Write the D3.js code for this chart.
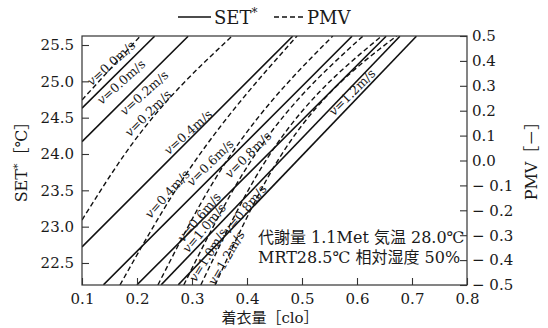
<!DOCTYPE html>
<html><head><meta charset="utf-8">
<script src="https://cdn.jsdelivr.net/npm/d3@7"></script>
<style>
body{margin:0;background:#fff;}
text{font-family:"DejaVu Serif","Liberation Serif","Noto Sans CJK JP",serif;fill:#1a1a1a;}
</style></head><body>
<svg id="c" width="548" height="328"></svg>
<script>
// ---- data ----
const cloTicks = [0.1, 0.2, 0.3, 0.4, 0.5, 0.6, 0.7, 0.8];
const setTicks = [22.5, 23.0, 23.5, 24.0, 24.5, 25.0, 25.5];
const pmvTicks = [0.5, 0.4, 0.3, 0.2, 0.1, 0.0, -0.1, -0.2, -0.3, -0.4, -0.5];
const velocities = ["0.0", "0.2", "0.4", "0.6", "0.8", "1.0", "1.2"];
// SET* [°C] vs clothing [clo], one series per air velocity
const set00 = [[0.100, 24.63], [0.232, 25.62]];
const set02 = [[0.100, 24.17], [0.293, 25.62]];
const set04 = [[0.100, 22.72], [0.483, 25.62]];
const set06 = [[0.139, 22.20], [0.591, 25.62]];
const set08 = [[0.200, 22.20], [0.653, 25.62]];
const set10 = [[0.244, 22.20], [0.678, 25.62]];
const set12 = [[0.275, 22.20], [0.708, 25.62]];
// PMV [-] vs clothing [clo]
const pmv00 = [[0.100, 0.243], [0.206, 0.50]];
const pmv02 = [[0.100, -0.239], [0.187, 0.054], [0.373, 0.50]];
const pmv04 = [[0.169, -0.50], [0.270, -0.12], [0.491, 0.50]];
const pmv06 = [[0.238, -0.50], [0.335, -0.10], [0.556, 0.50]];
const pmv08 = [[0.285, -0.50], [0.385, -0.08], [0.611, 0.50]];
const pmv10 = [[0.316, -0.50], [0.415, -0.07], [0.645, 0.50]];
const pmv12 = [[0.342, -0.50], [0.440, -0.06], [0.672, 0.50]];
const setSeries = [set00, set02, set04, set06, set08, set10, set12];
const pmvSeries = [pmv00, pmv02, pmv04, pmv06, pmv08, pmv10, pmv12];
// curve labels: velocity index, clo at centre, SET-axis value at centre, angle
const curveLabels = [
  [0, 0.153, 25.25, -42],
  [0, 0.171, 24.99, -42],
  [1, 0.213, 24.84, -42],
  [1, 0.220, 24.56, -45],
  [2, 0.293, 24.30, -42],
  [2, 0.255, 23.45, -48],
  [3, 0.333, 23.88, -45],
  [4, 0.402, 23.99, -45],
  [3, 0.313, 23.13, -50],
  [5, 0.322, 22.98, -50],
  [4, 0.396, 23.24, -50],
  [5, 0.329, 22.61, -58],
  [6, 0.362, 22.57, -60],
  [6, 0.591, 24.85, -45]
];
const legendItems = ["SET", "PMV"];
const noteLines = ["代謝量 1.1Met 気温 28.0℃", "MRT28.5℃ 相対湿度 50%"];

// ---- drawing ----
const svg = d3.select("#c");
const L = 82, R = 467, T = 36, B = 285;
const x = d3.scaleLinear().domain([0.1, 0.8]).range([L, R]);
const yS = d3.scaleLinear().domain([22.197, 25.624]).range([B, T]);
const yP = d3.scaleLinear().domain([-0.5, 0.5]).range([B, T]);

svg.append("clipPath").attr("id", "clip").append("rect")
  .attr("x", L).attr("y", T).attr("width", R - L).attr("height", B - T);

const g = svg.append("g").attr("clip-path", "url(#clip)");
const lineS = d3.line().x(d => x(d[0])).y(d => yS(d[1])).curve(d3.curveMonotoneX);
const lineP = d3.line().x(d => x(d[0])).y(d => yP(d[1])).curve(d3.curveMonotoneX);
g.selectAll(".s").data(setSeries).join("path").attr("d", lineS)
  .attr("fill", "none").attr("stroke", "#111").attr("stroke-width", 1.6);
g.selectAll(".p").data(pmvSeries).join("path").attr("d", lineP)
  .attr("fill", "none").attr("stroke", "#111").attr("stroke-width", 1.4)
  .attr("stroke-dasharray", "5,3");

// frame
svg.append("rect").attr("x", L).attr("y", T).attr("width", R - L).attr("height", B - T)
  .attr("fill", "none").attr("stroke", "#333").attr("stroke-width", 1.2);

// axes
const ax = d3.axisBottom(x).tickValues(cloTicks).tickSize(-7).tickPadding(8).tickFormat(d3.format(".1f"));
const ay = d3.axisLeft(yS).tickValues(setTicks).tickSize(-7).tickPadding(8).tickFormat(d3.format(".1f"));
const ayr = d3.axisRight(yP).tickValues(pmvTicks).tickSize(-7).tickPadding(5)
  .tickFormat(d => d < 0 ? "\u2212 " + Math.abs(d).toFixed(1) : d.toFixed(1));
function styleAxis(sel) {
  sel.select(".domain").remove();
  sel.selectAll("line").attr("stroke", "#333").attr("stroke-width", 1.1);
  sel.selectAll("text").attr("font-size", 15).attr("fill", "#1a1a1a")
    .attr("font-family", "DejaVu Serif, serif");
}
svg.append("g").attr("transform", `translate(0,${B})`).call(ax).call(styleAxis);
svg.append("g").attr("transform", `translate(${L},0)`).call(ay).call(styleAxis);
svg.append("g").attr("transform", `translate(${R},0)`).call(ayr).call(styleAxis);

// axis titles
svg.append("text").attr("x", 270).attr("y", 323).attr("text-anchor", "middle")
  .attr("font-size", 15).text("着衣量［clo］");
const lt = svg.append("text").attr("transform", "translate(27,158) rotate(-90)")
  .attr("text-anchor", "middle").attr("font-size", 16);
lt.append("tspan").text("SET");
lt.append("tspan").attr("font-size", 11).attr("dy", -6).text("*");
lt.append("tspan").attr("dy", 6).text("［℃］");
svg.append("text").attr("transform", "translate(537,157) rotate(-90)")
  .attr("text-anchor", "middle").attr("font-size", 16).text("PMV［－］");

// legend
const lg = svg.append("g");
lg.append("line").attr("x1", 178).attr("x2", 211).attr("y1", 17).attr("y2", 17)
  .attr("stroke", "#111").attr("stroke-width", 1.4);
const l1 = lg.append("text").attr("x", 214).attr("y", 24).attr("font-size", 18);
l1.append("tspan").text(legendItems[0]);
l1.append("tspan").attr("font-size", 12).attr("dy", -7).text("*");
lg.append("line").attr("x1", 274).attr("x2", 306).attr("y1", 17).attr("y2", 17)
  .attr("stroke", "#111").attr("stroke-width", 1.4).attr("stroke-dasharray", "5,3");
lg.append("text").attr("x", 307).attr("y", 24).attr("font-size", 18).text(legendItems[1]);

// note
svg.selectAll(".note").data(noteLines).join("text")
  .attr("x", 258).attr("y", (d, i) => 243 + i * 20).attr("font-size", 16).text(d => d);

// curve labels
curveLabels.forEach(([vi, cx, cv, ang]) => {
  const t = svg.append("text").attr("transform", `translate(${x(cx)},${yS(cv)}) rotate(${ang})`)
    .attr("text-anchor", "middle").attr("dy", "0.35em").attr("font-size", 12.5);
  t.append("tspan").attr("font-style", "italic").text("v");
  t.append("tspan").text("=" + velocities[vi] + "m/s");
});
</script></body></html>
